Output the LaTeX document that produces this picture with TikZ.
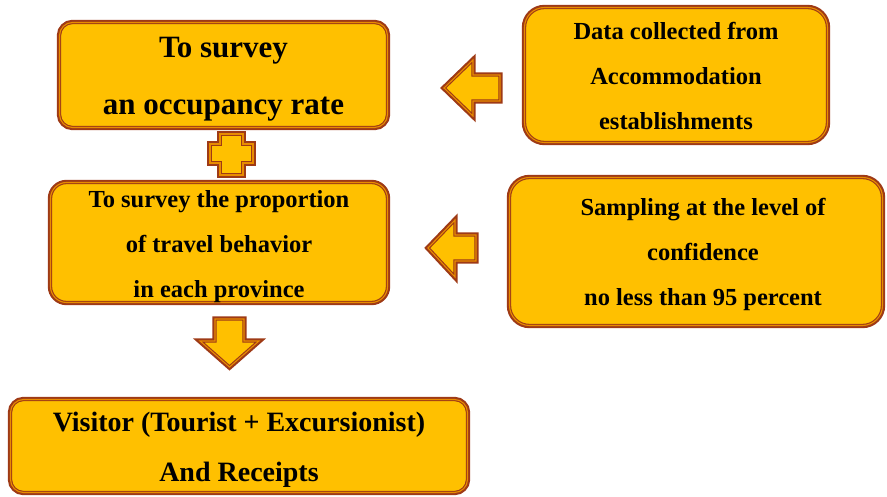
\documentclass[tikz,border=0pt]{standalone}
\usepackage{fontspec}
\setmainfont{Liberation Serif}
\usetikzlibrary{positioning}
\definecolor{boxfill}{RGB}{255,192,0}
\definecolor{boxedge}{RGB}{158,58,22}
\definecolor{boxline}{RGB}{232,140,0}
\begin{document}
\begin{tikzpicture}[x=1pt,y=-1pt,
  goldshape/.style={preaction={draw=boxedge, line width=5.4pt}, draw=boxedge, line width=1.1pt, double=boxline, double distance=1.1pt, fill=boxfill, line join=miter},
  goldbox/.style={goldshape, inner sep=0pt},
  bigtext/.style={align=center, inner sep=0pt, font=\bfseries\fontsize{31}{57}\selectfont},
  midtext/.style={align=center, inner sep=0pt, font=\bfseries\fontsize{24.5}{45}\selectfont}]
\useasboundingbox (0,0) rectangle (887,497);
% boxes
\node[goldbox, rounded corners=13pt, minimum width=328pt, minimum height=105pt] (occ) at (223.5,75) {};
\node[bigtext] (occtxt) at ([yshift=-4pt]occ.center) {To survey\\an occupancy rate};
\node[goldbox, rounded corners=20pt, minimum width=303pt, minimum height=135pt] (data) at (676,75) {};
\node[midtext] (datatxt) at ([yshift=-1pt]data.center) {Data collected from\\Accommodation\\establishments};
\node[goldbox, rounded corners=16pt, minimum width=337pt, minimum height=120pt] (prop) at (219,242.5) {};
\node[midtext] (proptxt) at ([yshift=-4pt]prop.center) {To survey the proportion\\of travel behavior\\in each province};
\node[goldbox, rounded corners=20pt, minimum width=373pt, minimum height=148pt] (samp) at (696,251.5) {};
\node[midtext] (samptxt) at ([xshift=7pt,yshift=-3pt]samp.center) {Sampling at the level of\\confidence\\no less than 95 percent};
\node[goldbox, rounded corners=13pt, minimum width=457pt, minimum height=93pt] (vis) at (239,446) {};
\node[bigtext, font=\bfseries\fontsize{28}{50}\selectfont] (vistxt) at ([yshift=-4pt]vis.center) {Visitor (Tourist + Excursionist)\\And Receipts};
% plus sign
\path[goldshape] (220,134) -- (243,134) -- (243,144) -- (253,144) -- (253,163) -- (243,163) -- (243,175) -- (220,175) -- (220,163) -- (210,163) -- (210,144) -- (220,144) -- cycle;
% block arrows
\path[goldshape] (444,88) -- (473,60) -- (473,75) -- (500,75) -- (500,101) -- (473,101) -- (473,116) -- cycle;
\path[goldshape] (428,248) -- (455,220) -- (455,235) -- (476,235) -- (476,261) -- (455,261) -- (455,277) -- cycle;
\path[goldshape] (215,319) -- (244,319) -- (244,341) -- (259,341) -- (229.5,367) -- (200,341) -- (215,341) -- cycle;
\end{tikzpicture}
\end{document}
